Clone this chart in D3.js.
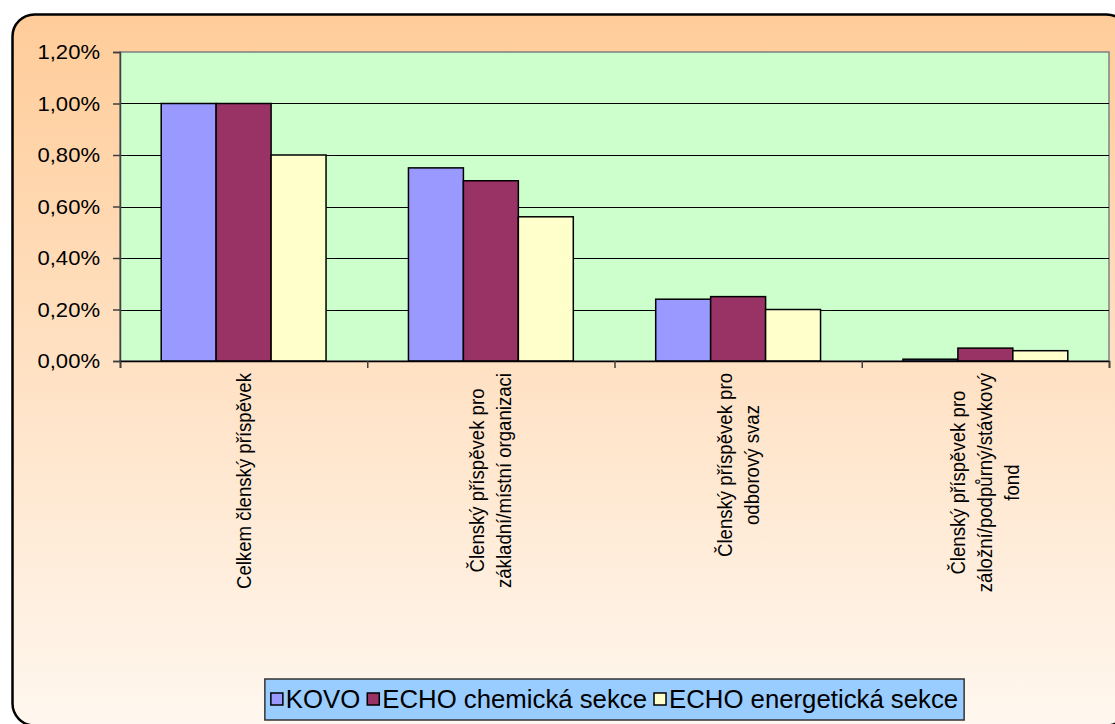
<!DOCTYPE html>
<html>
<head>
<meta charset="utf-8">
<script src="https://cdn.jsdelivr.net/npm/d3@7"></script>
<style>
  body { margin: 0; background: #fff; }
  svg { display: block; font-family: "Liberation Sans", Arial, sans-serif; }
</style>
</head>
<body>
<svg id="chart" width="1115" height="724"></svg>
<script>
var categories = [
  ["Celkem členský příspěvek"],
  ["Členský příspěvek pro", "základní/místní organizaci"],
  ["Členský příspěvek pro", "odborový svaz"],
  ["Členský příspěvek pro", "záložní/podpůrný/stávkový", "fond"]
];
var seriesNames = ["KOVO", "ECHO chemická sekce", "ECHO energetická sekce"];
var seriesColors = ["#9999FF", "#993366", "#FFFFCC"];
var kovo = [0.0100, 0.0075, 0.0024, 0.00007];
var echoChem = [0.0100, 0.0070, 0.0025, 0.0005];
var echoEnerg = [0.0080, 0.0056, 0.0020, 0.0004];
var yTicks = [0, 0.002, 0.004, 0.006, 0.008, 0.010, 0.012];

var values = [kovo, echoChem, echoEnerg];
var svg = d3.select("#chart");

var plotLeft = 120, plotRight = 1109, plotTop = 52, plotBottom = 361;

// squeeze or stretch a text along its own direction
function stretch(sel, k) {
  sel.each(function() {
    var len = this.getComputedTextLength();
    d3.select(this).attr("textLength", len * k).attr("lengthAdjust", "spacingAndGlyphs");
  });
}

// background frame
var defs = svg.append("defs");
var grad = defs.append("linearGradient")
  .attr("id", "bg").attr("x1", 0).attr("y1", 0).attr("x2", 0).attr("y2", 1);
grad.append("stop").attr("offset", "0%").attr("stop-color", "#FFCC99");
grad.append("stop").attr("offset", "100%").attr("stop-color", "#FFF7EF");

svg.append("rect")
  .attr("x", 12.5).attr("y", 14.5)
  .attr("width", 1116).attr("height", 711)
  .attr("rx", 22).attr("ry", 22)
  .attr("fill", "url(#bg)")
  .attr("stroke", "#000").attr("stroke-width", 2.5);

// scales
var x0 = d3.scaleBand()
  .domain(d3.range(categories.length))
  .range([plotLeft, plotRight])
  .padding(0);

var x1 = d3.scaleBand()
  .domain(d3.range(seriesNames.length))
  .range([0, x0.bandwidth()])
  .paddingInner(0)
  .paddingOuter(0.75);

var y = d3.scaleLinear()
  .domain([0, 0.012])
  .range([plotBottom, plotTop]);

// plot area
svg.append("rect")
  .attr("x", plotLeft).attr("y", plotTop)
  .attr("width", plotRight - plotLeft).attr("height", plotBottom - plotTop)
  .attr("fill", "#CCFFCC")
  .attr("stroke", "#808080").attr("stroke-width", 1.5);

// gridlines
svg.append("g")
  .selectAll("line")
  .data(yTicks.slice(1, -1))
  .join("line")
  .attr("x1", plotLeft).attr("x2", plotRight)
  .attr("y1", function(d) { return Math.round(y(d)) + 0.5; })
  .attr("y2", function(d) { return Math.round(y(d)) + 0.5; })
  .attr("stroke", "#000").attr("stroke-width", 1);

// bars
values.forEach(function(series, s) {
  svg.append("g")
    .selectAll("rect")
    .data(series)
    .join("rect")
    .attr("x", function(d, i) { return x0(i) + x1(s); })
    .attr("y", function(d) { return y(d); })
    .attr("width", x1.bandwidth())
    .attr("height", function(d) { return plotBottom - y(d); })
    .attr("fill", seriesColors[s])
    .attr("stroke", "#000")
    .attr("stroke-width", 1.5);
});

// y axis
var yAxis = d3.axisLeft(y)
  .tickValues(yTicks)
  .tickSize(7)
  .tickPadding(13)
  .tickFormat(function(d) { return (d * 100).toFixed(2).replace(".", ",") + "%"; });

var yg = svg.append("g")
  .attr("transform", "translate(" + plotLeft + ",0)")
  .call(yAxis);
yg.select(".domain").attr("stroke", "#404040").attr("stroke-width", 1.5);
yg.selectAll(".tick line").attr("stroke", "#404040").attr("stroke-width", 1.5);
yg.selectAll(".tick text")
  .attr("font-size", 21)
  .attr("fill", "#000")
  .style("font-family", "'Liberation Sans', Arial, sans-serif")
  .call(stretch, 1.05);

// x axis with ticks at category boundaries
var xb = d3.scaleLinear().domain([0, categories.length]).range([plotLeft, plotRight]);
var xg = svg.append("g")
  .attr("transform", "translate(0," + plotBottom + ")")
  .call(d3.axisBottom(xb).tickValues(d3.range(categories.length + 1)).tickSize(7).tickFormat(""));
xg.select(".domain").attr("stroke", "#000").attr("stroke-width", 1.5);
xg.selectAll(".tick line").attr("stroke", "#404040").attr("stroke-width", 1.5);

// category labels, rotated
var lineHeight = 27, labelTop = 373;
categories.forEach(function(lines, i) {
  var cx = x0(i) + x0.bandwidth() / 2;
  var g = svg.append("g");
  var texts = g.selectAll("text")
    .data(lines)
    .join("text")
    .attr("font-size", 20)
    .attr("fill", "#000")
    .attr("text-anchor", "middle")
    .attr("dy", "0.35em")
    .text(function(d) { return d; })
    .call(stretch, 0.93);
  var maxLen = d3.max(texts.nodes(), function(n) { return +n.getAttribute("textLength"); });
  var cy = labelTop + maxLen / 2;
  texts.attr("transform", function(d, j) {
    var lx = cx + (j - (lines.length - 1) / 2) * lineHeight;
    return "translate(" + lx + "," + cy + ") rotate(-90)";
  });
});

// legend, centred under the plot area
var legend = svg.append("g");
var legendBox = legend.append("rect")
  .attr("fill", "#99CCFF")
  .attr("stroke", "#333").attr("stroke-width", 1.5);
var lx = 0, legendY = 699;
var items = legend.append("g");
seriesNames.forEach(function(name, s) {
  items.append("rect")
    .attr("x", lx).attr("y", legendY - 6)
    .attr("width", 12).attr("height", 12)
    .attr("fill", seriesColors[s])
    .attr("stroke", "#000").attr("stroke-width", 1.5);
  var t = items.append("text")
    .attr("x", lx + 15).attr("y", legendY)
    .attr("dy", "0.35em")
    .attr("font-size", 25)
    .attr("fill", "#000")
    .text(name)
    .call(stretch, 1.03);
  lx += 15 + (+t.attr("textLength")) + 7;
});
var contentW = lx - 7;
var legendLeft = (plotLeft + plotRight) / 2 - contentW / 2;
items.attr("transform", "translate(" + legendLeft + ",0)");
legendBox
  .attr("x", legendLeft - 6).attr("y", 679)
  .attr("width", contentW + 12).attr("height", 41);
</script>
</body>
</html>
